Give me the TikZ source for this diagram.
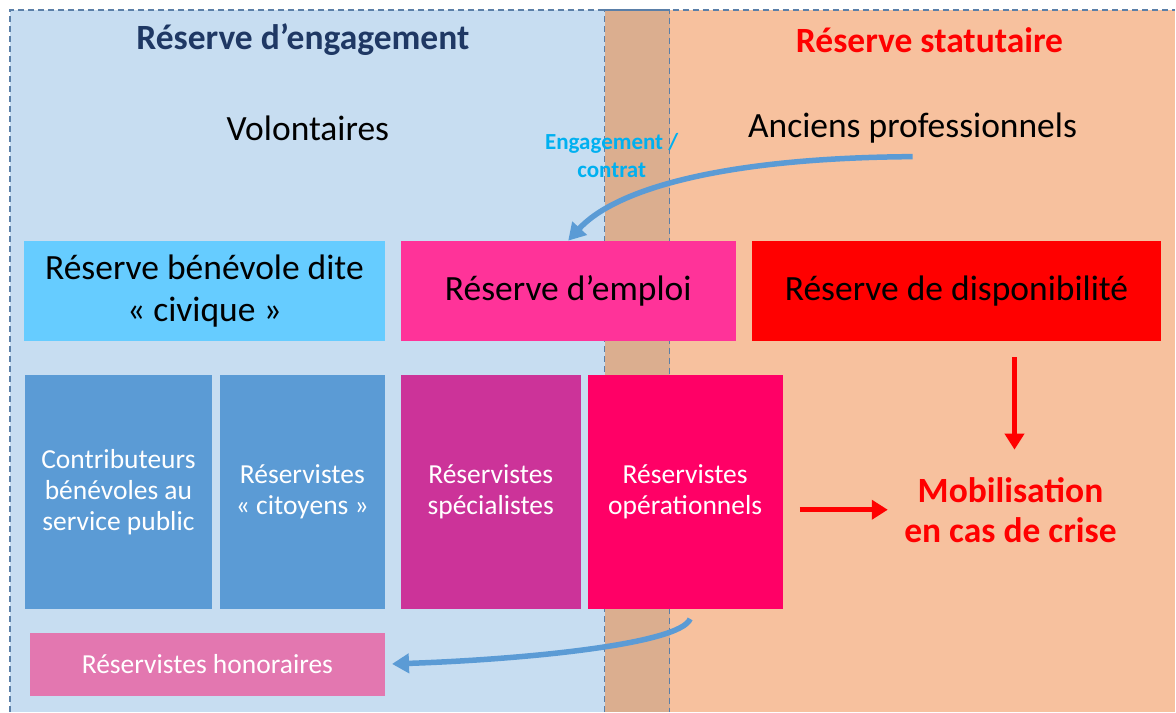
\documentclass[tikz,border=0pt]{standalone}
\usepackage{fontspec}
\setmainfont{Carlito}
\usetikzlibrary{arrows.meta}
\definecolor{engbg}{HTML}{C7DDF1}
\definecolor{statbg}{HTML}{F7C19E}
\definecolor{mixbg}{HTML}{DBAE8F}
\definecolor{bordure}{HTML}{5A7FA8}
\definecolor{marine}{HTML}{1F3864}
\definecolor{cyanlabel}{HTML}{00B0F0}
\definecolor{civique}{HTML}{66CCFF}
\definecolor{emploi}{HTML}{FF3399}
\definecolor{bleucadre}{HTML}{5B9BD5}
\definecolor{specia}{HTML}{CC3399}
\definecolor{operat}{HTML}{FF0066}
\definecolor{honor}{HTML}{E377B0}
\begin{document}
\begin{tikzpicture}[x=1pt,y=-1pt,
		titre/.style={font=\fontsize{35.5}{40}\selectfont\bfseries, align=center},
		grand/.style={font=\fontsize{35.5}{42}\selectfont, align=center},
		moyen/.style={font=\fontsize{27.5}{31}\selectfont, align=center, text=white},
		boite/.style={inner sep=0pt},
		fleche rouge/.style={red, line width=5.5pt, -{Triangle[length=16pt,width=19pt]}},
		fleche bleue/.style={bleucadre, line width=5.5pt, -{Triangle[length=17pt,width=19pt]}}]
	\fill[white] (0,0) rectangle (1176,712);
	\fill[statbg] (605,10) rectangle (1176,712);
	\fill[engbg] (10,10) rectangle (670,712);
	\fill[mixbg] (605,10) rectangle (670,712);
	\draw[bordure, line width=1.2pt, dash pattern=on 6pt off 4pt] (605,712) -- (605,10) -- (1176,10);
	\draw[bordure, line width=1.2pt, dash pattern=on 6pt off 4pt] (10,712) -- (10,10) -- (670,10) -- (670,712);

	\node[titre, text=marine] (engagement) at (303,40) {Réserve d’engagement};
	\node[titre, text=red] (statutaire) at (930,40) {Réserve statutaire};
	\node[grand] (volontaires) at (308,128) {Volontaires};
	\node[grand] (anciens) at (913,128) {Anciens professionnels};
	\node[font=\fontsize{23}{28}\selectfont\bfseries, text=cyanlabel, align=center] (contrat) at (612,156) {Engagement /\\contrat};

	\node[boite, grand, fill=civique, minimum width=361pt, minimum height=100pt] (civique) at (204.5,291) {Réserve bénévole dite\\« civique »};
	\node[boite, grand, fill=emploi, minimum width=335pt, minimum height=100pt] (emploi) at (568.5,291) {Réserve d’emploi};
	\node[boite, grand, fill=red, minimum width=410pt, minimum height=100pt] (dispo) at (957,291) {Réserve de disponibilité};

	\node[boite, moyen, fill=bleucadre, minimum width=187pt, minimum height=234pt] (contributeurs) at (118.5,492) {Contributeurs\\bénévoles au\\service public};
	\node[boite, moyen, fill=bleucadre, minimum width=165pt, minimum height=234pt] (citoyens) at (302.5,492) {Réservistes\\« citoyens »};
	\node[boite, moyen, fill=specia, minimum width=180pt, minimum height=234pt] (specialistes) at (491,492) {Réservistes\\spécialistes};
	\node[boite, moyen, fill=operat, minimum width=195pt, minimum height=234pt] (operationnels) at (685.5,492) {Réservistes\\opérationnels};
	\node[boite, moyen, fill=honor, minimum width=355pt, minimum height=63pt] (honoraires) at (207.5,664.5) {Réservistes honoraires};

	\node[titre, text=red] (mobilisation) at (1011,510) {Mobilisation\\en cas de crise};

	\draw[fleche rouge, shorten <=16pt, shorten >=24pt] ([xshift=4pt]dispo.south -| mobilisation.north) -- ([xshift=4pt]mobilisation.north);
	\draw[fleche rouge, shorten <=17pt, shorten >=13pt] (operationnels.east |- mobilisation.west) -- (mobilisation.west);
	\draw[fleche bleue] ([yshift=-10pt]anciens.south) .. controls (720,158) and (615,190) .. (emploi.north);
	\draw[fleche bleue, shorten >=7pt] ([xshift=5pt,yshift=-10pt]operationnels.south) .. controls (680,645) and (520,660) .. (honoraires.east);
\end{tikzpicture}
\end{document}
